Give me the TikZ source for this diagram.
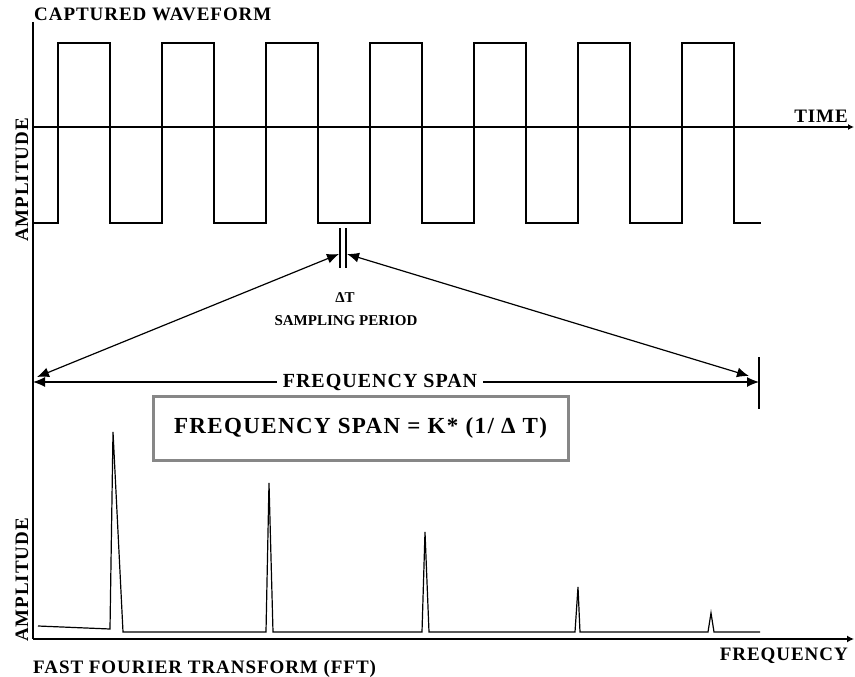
\documentclass[tikz,border=0pt]{standalone}
\usepackage{fontspec}
\setmainfont{Liberation Serif}
\newfontfamily\labfont{Liberation Serif}[LetterSpace=5]
\newfontfamily\boxfont{Liberation Serif}[LetterSpace=6]
\usetikzlibrary{arrows.meta}
\definecolor{boxgray}{RGB}{135,135,135}
\begin{document}
\begin{tikzpicture}[x=1pt,y=-1pt,
  axis/.style={line width=1.3pt},
  wave/.style={line width=2.4pt, line join=miter},
  spec/.style={line width=1.2pt, line join=miter},
  tickmark/.style={line width=2.4pt},
  dim/.style={line width=1.2pt, {Latex[length=12pt,width=10pt]}-{Latex[length=12pt,width=10pt]}},
  lab/.style={font=\labfont\bfseries\fontsize{19}{22}\selectfont, inner sep=0pt},
  small/.style={font=\bfseries\fontsize{15}{18}\selectfont, inner sep=0pt},
  formula/.style={draw=boxgray, line width=3pt, minimum width=415pt, minimum height=64pt,
    font=\boxfont\bfseries\fontsize{23}{26}\selectfont, inner sep=0pt}
]
\useasboundingbox (0,0) rectangle (855,677);

% axes
\coordinate (ytop) at (33,22);
\coordinate (ybot) at (33,639);
\coordinate (tstart) at (33,127);
\coordinate (tend) at (854,127);
\coordinate (fstart) at (33,639);
\coordinate (fend) at (854,639);
\draw[axis] (ytop) -- (ybot);
\draw[axis,-{Latex[length=6pt,width=6pt]}] (tstart) -- (tend);
\draw[axis,-{Latex[length=7pt,width=7pt]}] (fstart) -- (fend);

% square wave
\draw[wave] (33,223) foreach \i in {0,...,6} {
  -- ({58+104*\i},223) -- ({58+104*\i},43) -- ({110+104*\i},43) -- ({110+104*\i},223) } -- (761,223);

% sampling period marks
\coordinate (m1t) at (340,228); \coordinate (m1b) at (340,268);
\coordinate (m2t) at (346,228); \coordinate (m2b) at (346,268);
\draw[axis] (m1t) -- (m1b);
\draw[axis] (m2t) -- (m2b);

% span ticks
\coordinate (lt) at (33,357); \coordinate (lb) at (33,409);
\coordinate (rt) at (759,357); \coordinate (rb) at (759,409);
\draw[tickmark] (lt) -- (lb);
\draw[tickmark] (rt) -- (rb);

% arrows
\coordinate (dl) at (339,254); \coordinate (dr) at (347,254);
\coordinate (sl) at (37,377); \coordinate (sr) at (749,376);
\draw[dim] (dl) -- (sl);
\draw[dim] (dr) -- (sr);
\coordinate (hl) at (33,382); \coordinate (hr) at (759,382);
\draw[dim] (hl) -- (hr);
\node[lab, font=\labfont\bfseries\fontsize{20}{23}\selectfont, fill=white, inner xsep=6pt, inner ysep=2pt] (span) at (380,382) {FREQUENCY SPAN};

% formula box
\node[formula] (box) at (360.5,428) {FREQUENCY SPAN = K* (1/ Δ T)};

% spectrum
\draw[spec] (38,626) -- (110,629) -- (113,432) -- (123,632) -- (266,632) -- (269,483) -- (273,632)
  -- (422,632) -- (425,532) -- (429,632) -- (575,632) -- (578,587) -- (580,632)
  -- (708,632) -- (711,613) -- (714,632) -- (760,632);

% labels
\node[lab, anchor=base west] (title) at (34,21) {CAPTURED WAVEFORM};
\node[lab, anchor=base east] (time) at (848,122) {TIME};
\node[lab, anchor=base, rotate=90] (amp1) at (28,180) {AMPLITUDE};
\node[lab, anchor=base, rotate=90] (amp2) at (28,580) {AMPLITUDE};
\node[small, anchor=base] (dt) at (345,302) {ΔT};
\node[small, anchor=base] (sp) at (346,325) {SAMPLING PERIOD};
\node[lab, anchor=base east] (freq) at (848,660) {FREQUENCY};
\node[lab, anchor=base west] (fft) at (33,673) {FAST FOURIER TRANSFORM (FFT)};
\end{tikzpicture}
\end{document}
